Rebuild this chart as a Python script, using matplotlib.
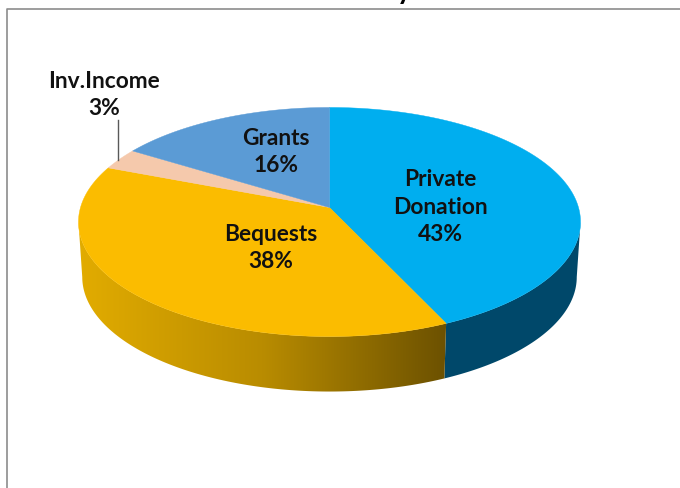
import numpy as np
import matplotlib
matplotlib.use("Agg")
import matplotlib.pyplot as plt
from matplotlib.patches import Polygon
from matplotlib.colors import LinearSegmentedColormap

# ---------------- data ----------------
labels = ["Private\nDonation", "Bequests", "Inv.Income", "Grants"]
shares = [43.2, 37.8, 3, 16]
top_colors = ["#00AEEF", "#FBBC00", "#F5C9AC", "#5B9BD5"]

# ---------------- pie geometry (pixels) ----------------
cx, cy = 329.5, 208.5
rim_x, rim_y, persp = 249, 112.7, 0.1266
depth = 55
bottom_scale = 0.985


def top_rim(deg):
    a = np.radians(deg)
    u, v = np.sin(a), np.cos(a)
    d = 1 + persp * v
    return cx + rim_x * u / d, cy - rim_y * v / d


def bottom_rim(deg):
    x, y = top_rim(deg)
    return cx + (x - cx) * bottom_scale, y + depth


def wall(a0, a1):
    deg = np.linspace(a0, a1, 120)
    xt, yt = top_rim(deg)
    xb, yb = bottom_rim(deg)
    return np.column_stack([np.r_[xt, xb[::-1]], np.r_[yt, yb[::-1]]])


fig = plt.figure(figsize=(6.8, 4.89), dpi=100)
ax = fig.add_axes([0, 0, 1, 1])
ax.set_xlim(0, 680)
ax.set_ylim(489, 0)
ax.axis("off")

# chart frame
ax.plot([6.5, 6.5, 680], [489, 10, 10], color="#8C8C8C", lw=1.2, zorder=1)

# angles where the slices change over, clockwise from the top
edges = np.cumsum([0] + shares) * 3.6
side_limit = np.degrees(np.arcsin(persp))

# side walls
ax.add_patch(Polygon(wall(90 + side_limit, edges[1]), fc="#00486A", ec="none", zorder=2))

gold = LinearSegmentedColormap.from_list("gold", ["#E2AC00", "#B98C00", "#6C5100"])
gold_wall = Polygon(wall(edges[1], 270 - side_limit), fc="none", ec="none", zorder=2)
ax.add_patch(gold_wall)
img = ax.imshow(np.linspace(0, 1, 256).reshape(1, -1), cmap=gold, aspect="auto",
                extent=[78, top_rim(edges[1])[0], 489, 0], zorder=2)
img.set_clip_path(gold_wall)
ax.set_xlim(0, 680)
ax.set_ylim(489, 0)

# top face
for i in range(len(shares)):
    xs, ys = top_rim(np.linspace(edges[i], edges[i + 1], 120))
    pts = np.column_stack([np.r_[cx, xs], np.r_[cy, ys]])
    ax.add_patch(Polygon(pts, fc=top_colors[i], ec=top_colors[i], lw=0.3, zorder=3))

# leader line for the thin slice
ax.plot([117.5, 117.5], [121, 161], color="#595959", lw=1, zorder=4)

# labels
font = dict(family=["Lato", "DejaVu Sans"], weight="bold", fontsize=16.4, color="#111111",
            ha="center", va="center", linespacing=1.39, zorder=5)
label_pos = [(440, 207), (271, 248), (104, 95), (276, 152)]
for name, share, (lx, ly) in zip(labels, shares, label_pos):
    ax.text(lx, ly, f"{name}\n{share:.0f}%", **font)

# bottom of the cropped-off title
ax.text(404, -9, "y", family=["Lato", "DejaVu Sans"], weight="bold", fontsize=20,
        color="black", ha="center", va="center", clip_on=False)

fig.savefig("out.png", dpi=100)
